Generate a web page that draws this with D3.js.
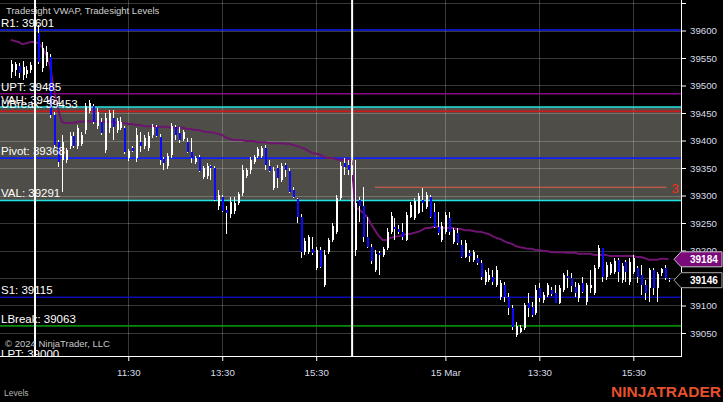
<!DOCTYPE html>
<html><head><meta charset="utf-8">
<script src="https://cdn.jsdelivr.net/npm/d3@7/dist/d3.min.js"></script>
<style>
html,body{margin:0;padding:0;background:#000;overflow:hidden;}
svg{display:block;font-family:"Liberation Sans",Arial,sans-serif;}
</style></head><body>
<svg id="c" width="723" height="402"></svg>
<script>
// ---------------- DATA ----------------
const firstBarIndex = -6; // bars of the previous session shown at the left edge
const opens = [
 39525,39528,39536,39519,39521,39528,
 39541,39596,39532,39543,39552,39446,39397,39365,39365,39390,
 39408,39390,39394,39419,39454,39463,39426,39434,39383,39423,
 39441,39419,39423,39423,39368,39386,39368,39397,39390,39386,
 39410,39425,39406,39366,39354,39374,39425,39414,39403,39397,
 39379,39361,39370,39334,39335,39354,39350,39281,39297,39274,
 39266,39272,39286,39305,39335,39346,39361,39372,39372,39386,
 39354,39314,39350,39328,39355,39345,39310,39294,39261,39197,
 39197,39203,39168,39201,39137,39197,39219,39234,39296,39359,
 39355,39337,39201,39292,39281,39225,39206,39165,39196,39192,
 39205,39234,39243,39239,39234,39219,39261,39259,39268,39292,
 39279,39297,39270,39243,39219,39234,39259,39216,39232,39210,
 39188,39196,39183,39187,39177,39142,39146,39152,39137,39115,
 39137,39115,39095,39046,39052,39059,39105,39097,39086,39132,
 39110,39119,39128,39123,39105,39128,39154,39150,39134,39114,
 39141,39106,39132,39123,39170,39205,39152,39159,39161,39183,
 39146,39179,39143,39161,39168,39155,39137,39132,39165,39132,
 39159,39168,39148];
const highs = [
 39546,39543,39541,39545,39536,39543,
 39601,39610,39579,39572,39557,39452,39401,39410,39386,39415,
 39415,39428,39415,39468,39474,39466,39459,39441,39450,39456,
 39456,39441,39443,39426,39385,39390,39423,39415,39410,39415,
 39430,39428,39412,39370,39377,39432,39428,39425,39419,39405,
 39405,39372,39374,39354,39359,39355,39354,39310,39301,39281,
 39297,39297,39306,39355,39350,39370,39374,39388,39390,39392,
 39365,39352,39355,39359,39359,39350,39315,39296,39266,39223,
 39228,39225,39206,39206,39201,39223,39250,39301,39361,39368,
 39365,39365,39365,39297,39315,39261,39212,39201,39199,39206,
 39241,39270,39259,39246,39250,39270,39288,39296,39305,39314,
 39306,39301,39286,39270,39252,39270,39270,39241,39241,39219,
 39219,39201,39201,39192,39183,39165,39168,39165,39172,39146,
 39143,39123,39101,39070,39065,39105,39123,39106,39137,39141,
 39125,39141,39134,39137,39137,39159,39165,39159,39143,39141,
 39152,39141,39165,39174,39210,39205,39179,39179,39187,39187,
 39177,39183,39187,39192,39172,39174,39146,39168,39168,39161,
 39168,39174,39150];
const lows = [
 39514,39517,39514,39510,39514,39523,
 39532,39539,39525,39536,39441,39386,39352,39306,39359,39385,
 39386,39385,39390,39412,39450,39430,39421,39410,39377,39414,
 39401,39414,39419,39376,39363,39379,39361,39379,39385,39381,
 39405,39406,39355,39346,39348,39368,39401,39395,39399,39377,
 39359,39357,39343,39330,39330,39328,39290,39274,39270,39230,
 39259,39266,39283,39299,39332,39339,39357,39368,39368,39346,
 39343,39310,39314,39325,39334,39305,39296,39250,39186,39192,
 39194,39192,39165,39168,39134,39194,39216,39230,39292,39337,
 39337,39319,39190,39252,39216,39205,39175,39161,39155,39188,
 39201,39230,39219,39230,39219,39217,39259,39256,39266,39270,
 39276,39259,39241,39228,39216,39230,39228,39212,39210,39187,
 39187,39179,39179,39174,39146,39137,39143,39137,39134,39110,
 39106,39083,39055,39043,39050,39055,39079,39079,39083,39106,
 39105,39115,39117,39105,39103,39125,39132,39125,39115,39106,
 39123,39101,39123,39119,39166,39143,39146,39155,39157,39143,
 39141,39143,39137,39157,39141,39119,39110,39106,39119,39106,
 39154,39146,39143];
const closes = [
 39539,39539,39523,39534,39528,39537,
 39596,39543,39568,39561,39446,39392,39361,39397,39383,39408,
 39390,39423,39410,39463,39468,39434,39452,39414,39441,39450,
 39425,39435,39434,39379,39381,39381,39410,39390,39405,39408,
 39425,39408,39365,39359,39372,39426,39410,39401,39415,39379,
 39368,39368,39345,39350,39354,39350,39292,39301,39272,39268,
 39288,39286,39303,39346,39346,39365,39370,39385,39386,39355,
 39345,39345,39332,39354,39346,39306,39297,39261,39197,39217,
 39225,39196,39201,39170,39192,39219,39245,39296,39354,39352,
 39346,39355,39286,39281,39225,39206,39181,39194,39192,39203,
 39234,39263,39239,39234,39225,39265,39283,39290,39299,39286,
 39301,39261,39243,39232,39245,39265,39234,39237,39214,39188,
 39214,39190,39197,39177,39152,39161,39155,39143,39165,39141,
 39115,39095,39061,39063,39059,39101,39095,39083,39128,39114,
 39119,39137,39121,39105,39132,39155,39150,39136,39123,39137,
 39125,39137,39137,39168,39205,39152,39174,39175,39181,39161,
 39172,39161,39179,39187,39152,39137,39123,39165,39132,39157,
 39166,39150,39146];
const vwap = [
 39583,39581,39579,39575,39577,39579,
 39579,39577,39570,39556,39536,39495,39459,39434,39432,39432,
 39432,39434,39434,39435,39435,39435,39435,39434,39434,39434,
 39434,39432,39432,39432,39430,39430,39428,39428,39426,39426,
 39426,39425,39425,39425,39425,39423,39423,39423,39423,39421,
 39421,39419,39419,39417,39415,39415,39414,39412,39410,39405,
 39403,39401,39401,39401,39399,39399,39399,39397,39397,39397,
 39395,39395,39395,39395,39394,39394,39392,39390,39388,39385,
 39381,39377,39376,39374,39370,39368,39368,39366,39365,39365,
 39365,39363,39279,39274,39268,39261,39248,39237,39226,39219,
 39219,39223,39225,39226,39228,39230,39230,39232,39234,39237,
 39241,39241,39243,39243,39241,39241,39241,39241,39239,39239,
 39237,39237,39236,39234,39234,39232,39230,39226,39223,39221,
 39217,39214,39212,39208,39206,39205,39203,39203,39201,39201,
 39199,39199,39197,39197,39197,39197,39196,39196,39196,39194,
 39194,39194,39194,39192,39192,39192,39192,39190,39190,39190,
 39190,39190,39190,39190,39188,39188,39186,39183,39183,39183,
 39185,39185,39184];

const sessionStartBars = [0, 81];
const timeTickBars = [24, 48, 72, 105, 129, 153];
const timeTickLabels = ["11:30", "13:30", "15:30", "15 Mar", "13:30", "15:30"];
const priceTicks = [39050,39100,39150,39200,39250,39300,39350,39400,39450,39500,39550,39600,39650];
// tick labels that are visible (39150 sits under the last-price marker, 39650 is off the top)
const priceTickLabels = ["39050","39100","","39200","39250","39300","39350","39400","39450","39500","39550","39600",""];

const levelNames  = ["R1", "UPT", "VAH", "UBreak", "Pivot", "VAL", "S1", "LBreak", "LPT"];
const levelValues = [39601, 39485, 39461, 39453, 39368, 39291, 39115, 39063, 39000];
const valueAreaHigh = 39461, valueAreaLow = 39291;
const extraLevel = {value: 39315, fromBar: 87, toBar: 161.5, label: "3"};
const lastPrice = 39146, lastVwap = 39184;

// ---------------- CHART ----------------
const W = 723, H = 402, plotR = 681, plotB = 356;
const svg = d3.select("#c");
svg.append("rect").attr("width", W).attr("height", H).attr("fill", "#000");

const x = d3.scaleLinear().domain([0, 153]).range([34.3, 633.3]);
const y = d3.scaleLinear().domain([39050, 39600]).range([333, 30.5]);

svg.append("defs").append("clipPath").attr("id", "plot")
  .append("rect").attr("x", 0).attr("y", 0).attr("width", plotR).attr("height", plotB);
const g = svg.append("g").attr("clip-path", "url(#plot)");

// value area band
g.append("rect").attr("x", 0).attr("width", plotR)
  .attr("y", y(valueAreaHigh)).attr("height", y(valueAreaLow) - y(valueAreaHigh))
  .attr("fill", "#4e4d47");

// grid
g.selectAll("line.hg").data(priceTicks).join("line").attr("class", "hg")
  .attr("x1", 0).attr("x2", plotR)
  .attr("y1", d => Math.round(y(d)) + 0.5).attr("y2", d => Math.round(y(d)) + 0.5)
  .attr("stroke", "#fff").attr("stroke-opacity", 0.22);
g.selectAll("line.vg").data(timeTickBars).join("line").attr("class", "vg")
  .attr("y1", 0).attr("y2", plotB)
  .attr("x1", d => Math.round(x(d)) + 0.5).attr("x2", d => Math.round(x(d)) + 0.5)
  .attr("stroke", "#fff").attr("stroke-opacity", 0.22);

// level lines
const levelColor = {R1:"#1020ff", UPT:"#8a0a8a", VAH:"#22e4e4", UBreak:"#d01818", Pivot:"#1020ff",
                    VAL:"#22e4e4", S1:"#0c0cb4", LBreak:"#0a8a0a", LPT:"#8a0a8a"};
const levels = levelNames.map((n, i) => ({name: n, value: levelValues[i]}));
g.selectAll("line.lv").data(levels).join("line").attr("class", "lv")
  .attr("x1", 0).attr("x2", plotR)
  .attr("y1", d => y(d.value)).attr("y2", d => y(d.value))
  .attr("stroke", d => levelColor[d.name]).attr("stroke-width", 1.6);

// extra short level
g.append("line")
  .attr("x1", x(extraLevel.fromBar)).attr("x2", x(extraLevel.toBar))
  .attr("y1", y(extraLevel.value)).attr("y2", y(extraLevel.value))
  .attr("stroke", "#e2604e").attr("stroke-width", 1.2);
g.append("text").attr("x", x(extraLevel.toBar) + 5).attr("y", y(extraLevel.value) + 6)
  .attr("fill", "#ff2a1a").attr("font-size", 13).text(extraLevel.label);

// session break lines
g.selectAll("line.sb").data(sessionStartBars).join("line").attr("class", "sb")
  .attr("x1", d => x(d) + 0.7).attr("x2", d => x(d) + 0.7)
  .attr("y1", 0).attr("y2", plotB).attr("stroke", "#fff").attr("stroke-width", 2);

// bars
const bars = opens.map((o, k) => ({i: firstBarIndex + k, o, h: highs[k], l: lows[k], c: closes[k], v: vwap[k]}));

// VWAP
g.append("path").datum(bars)
  .attr("d", d3.line().x(d => x(d.i)).y(d => y(d.v)))
  .attr("fill", "none").attr("stroke", "#6e1470").attr("stroke-width", 2);

const cg = g.append("g").attr("shape-rendering", "crispEdges");
cg.selectAll("line.wk").data(bars).join("line").attr("class", "wk")
  .attr("x1", d => Math.round(x(d.i)) + 0.5).attr("x2", d => Math.round(x(d.i)) + 0.5)
  .attr("y1", d => y(d.h)).attr("y2", d => y(d.l))
  .attr("stroke", "#fff").attr("stroke-width", 1);
cg.selectAll("rect.bd").data(bars).join("rect").attr("class", "bd")
  .attr("x", d => Math.round(x(d.i)) - 0.5).attr("width", 2)
  .attr("y", d => y(Math.max(d.o, d.c)))
  .attr("height", d => Math.max(1, Math.abs(y(d.o) - y(d.c))))
  .attr("fill", d => d.c >= d.o ? "#ffffff" : "#0a0aff");

// level labels
g.selectAll("text.ll").data(levels).join("text").attr("class", "ll")
  .attr("x", 1).attr("y", d => y(d.value) - 3)
  .attr("fill", "#fff").attr("font-size", 11.5)
  .text(d => `${d.name}: ${d.value}`);

// titles
svg.append("text").attr("x", 6).attr("y", 14).attr("fill", "#d0d0d0").attr("font-size", 9.5)
  .text("Tradesight VWAP, Tradesight Levels");
svg.append("text").attr("x", 5).attr("y", 347).attr("fill", "#c8c8c8").attr("font-size", 9.5)
  .text("\u00A9 2024 NinjaTrader, LLC");

// axes
const yAxis = d3.axisRight(y).tickValues(priceTicks).tickSize(5).tickPadding(4)
  .tickFormat((d, i) => priceTickLabels[i]);
const ya = svg.append("g").attr("transform", `translate(${plotR},0)`).call(yAxis);
ya.select(".domain").remove();
ya.selectAll("line").attr("stroke", "#fff");
ya.selectAll("text").attr("fill", "#d8dce8").attr("font-size", 9.7).attr("font-family", "Liberation Sans, Arial, sans-serif");
svg.append("line").attr("x1", plotR + 0.5).attr("x2", plotR + 0.5).attr("y1", 0).attr("y2", plotB + 0.5)
  .attr("stroke", "#fff").attr("stroke-width", 1);

const xAxis = d3.axisBottom(x).tickValues(timeTickBars).tickSize(5).tickPadding(8)
  .tickFormat((d, i) => timeTickLabels[i]);
const xa = svg.append("g").attr("transform", `translate(0,${plotB})`).call(xAxis);
xa.select(".domain").remove();
xa.selectAll("line").attr("stroke", "#fff");
xa.selectAll("text").attr("fill", "#d8dce8").attr("font-size", 9.7).attr("font-family", "Liberation Sans, Arial, sans-serif");
svg.append("line").attr("x1", 0).attr("x2", plotR + 1).attr("y1", plotB + 0.5).attr("y2", plotB + 0.5)
  .attr("stroke", "#fff").attr("stroke-width", 1);

// price markers
function marker(val, fill, stroke) {
  const cy = y(val);
  const pts = [[674, cy], [681, cy - 7.5], [722, cy - 7.5], [722, cy + 7.5], [681, cy + 7.5]];
  svg.append("path").attr("d", d3.line()(pts) + "Z").attr("fill", fill).attr("stroke", stroke).attr("stroke-width", 1);
  svg.append("text").attr("x", 690).attr("y", cy + 3.6).attr("fill", "#fff").attr("font-size", 10)
    .attr("font-weight", "bold").text(val);
}
marker(lastVwap, "#7a0a7a", "#c8c8c8");
marker(lastPrice, "#000", "#a8a8a8");

// footer
svg.append("text").attr("x", 4).attr("y", 396).attr("fill", "#b4b4b4").attr("font-size", 8.5).text("Levels");
svg.append("text").attr("x", 611).attr("y", 396.5).attr("fill", "#e4502e").attr("font-size", 14.5)
  .attr("font-weight", "bold").attr("textLength", 110).attr("lengthAdjust", "spacingAndGlyphs").text("NINJATRADER");
</script>
</body></html>
